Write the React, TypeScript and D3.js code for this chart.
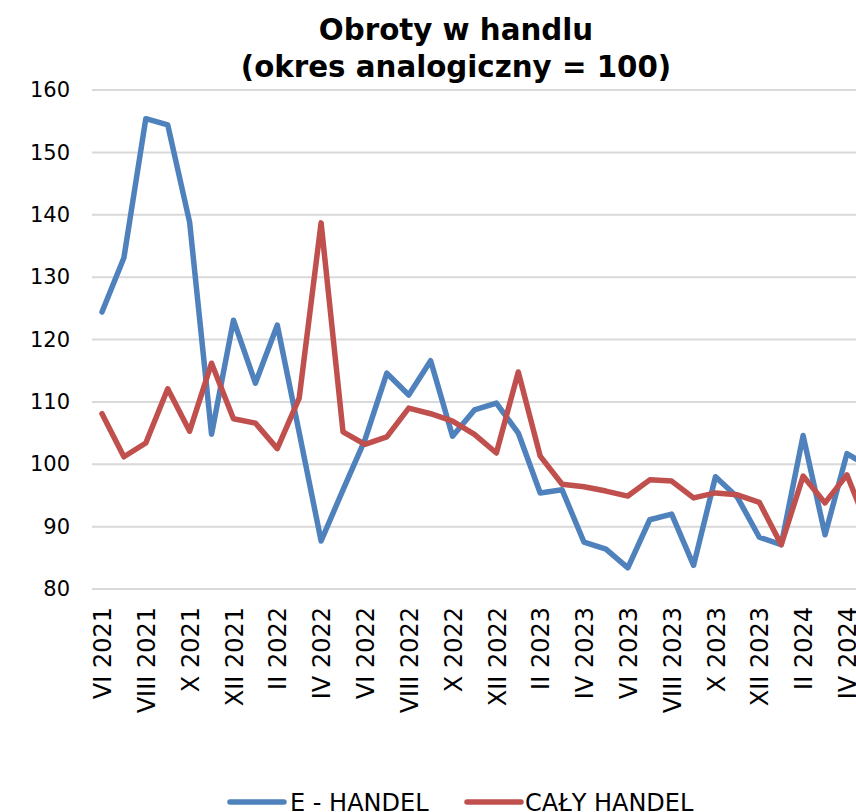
import React, { useEffect, useRef } from 'react'
import * as d3 from 'd3'

// months from VI 2021 to V 2024 (the last one sits past the right edge, as in the source)
const months = [
  'VI 2021', 'VII 2021', 'VIII 2021', 'IX 2021', 'X 2021', 'XI 2021', 'XII 2021',
  'I 2022', 'II 2022', 'III 2022', 'IV 2022', 'V 2022', 'VI 2022', 'VII 2022', 'VIII 2022',
  'IX 2022', 'X 2022', 'XI 2022', 'XII 2022',
  'I 2023', 'II 2023', 'III 2023', 'IV 2023', 'V 2023', 'VI 2023', 'VII 2023', 'VIII 2023',
  'IX 2023', 'X 2023', 'XI 2023', 'XII 2023',
  'I 2024', 'II 2024', 'III 2024', 'IV 2024', 'V 2024',
]

const eHandel = [
  124.4, 133.1, 155.4, 154.4, 138.8, 104.8, 123.1, 113.0, 122.3, 105.1, 87.7, 95.9,
  103.9, 114.6, 111.1, 116.6, 104.5, 108.7, 109.8, 105.0, 95.4, 95.9, 87.5, 86.4,
  83.4, 91.1, 92.0, 83.8, 98.0, 94.7, 88.3, 87.1, 104.6, 88.7, 101.7, 99.6,
]

const calyHandel = [
  108.1, 101.2, 103.4, 112.1, 105.3, 116.2, 107.3, 106.6, 102.5, 110.6, 138.7, 105.2,
  103.2, 104.4, 109.0, 108.1, 106.9, 104.8, 101.8, 114.8, 101.3, 96.8, 96.4, 95.7,
  94.9, 97.5, 97.3, 94.6, 95.4, 95.1, 93.9, 87.1, 98.1, 93.8, 98.3, 89.5,
]

// every other month gets a label
const tickLabels = months.filter((_, i) => i % 2 === 0)
const yTicks = [80, 90, 100, 110, 120, 130, 140, 150, 160]

const seriesList = [
  { id: 'e', label: 'E - HANDEL', color: '#4f81bd', values: eHandel },
  { id: 'caly', label: 'CAŁY HANDEL', color: '#c0504d', values: calyHandel },
]

export default function App() {
  const svgRef = useRef<SVGSVGElement>(null)

  useEffect(() => {
    if (!svgRef.current) return
    const svg = d3.select(svgRef.current)
    svg.selectAll('*').remove()

    const width = 856
    const height = 812
    const font = 'DejaVu Sans, Verdana, sans-serif'

    svg.attr('width', width).attr('height', height)

    const step = 21.91
    const x = d3.scalePoint<string>()
      .domain(months)
      .range([102, 102 + step * (months.length - 1)])

    const y = d3.scaleLinear()
      .domain([80, 160])
      .range([589, 90])

    // title
    const title = svg.append('text')
      .attr('text-anchor', 'middle')
      .style('font-family', font)
      .style('font-weight', 'bold')
      .style('font-size', '29.3px')
      .attr('fill', '#000')
    title.append('tspan').attr('x', 456).attr('y', 40).text('Obroty w handlu')
    title.append('tspan').attr('x', 456).attr('y', 77).text('(okres analogiczny = 100)')

    // grid
    svg.append('g')
      .selectAll('line')
      .data(yTicks)
      .enter().append('line')
      .attr('x1', 92)
      .attr('x2', 900)
      .attr('y1', d => y(d))
      .attr('y2', d => y(d))
      .attr('stroke', '#d9d9d9')
      .attr('stroke-width', 2)

    // y axis labels
    const yAxis = svg.append('g')
      .attr('transform', 'translate(70,0)')
      .call(d3.axisLeft(y).tickValues(yTicks).tickSize(0).tickPadding(0))
    yAxis.select('.domain').remove()
    yAxis.selectAll('text')
      .style('font-family', font)
      .style('font-size', '21px')
      .attr('fill', '#000')

    // x axis labels, rotated
    const xAxis = svg.append('g')
      .attr('transform', 'translate(0,607)')
      .call(d3.axisBottom(x).tickValues(tickLabels).tickSize(0).tickPadding(0))
    xAxis.select('.domain').remove()
    xAxis.selectAll('text')
      .style('font-family', font)
      .style('font-size', '24px')
      .attr('fill', '#000')
      .attr('transform', 'rotate(-90)')
      .attr('text-anchor', 'end')
      .attr('x', 0)
      .attr('y', 0)
      .attr('dy', '0.36em')

    const line = d3.line<number>()
      .x((_, i) => x(months[i]) || 0)
      .y(d => y(d))

    seriesList.forEach(s => {
      svg.append('path')
        .datum(s.values)
        .attr('fill', 'none')
        .attr('stroke', s.color)
        .attr('stroke-width', 5.5)
        .attr('stroke-linejoin', 'round')
        .attr('stroke-linecap', 'round')
        .attr('d', line)
    })

    // legend (bottom edge cuts the text, as in the source)
    const legendPos = [
      { lx: 230, tx: 290 },
      { lx: 467, tx: 525 },
    ]
    seriesList.forEach((s, i) => {
      const p = legendPos[i]
      svg.append('line')
        .attr('x1', p.lx)
        .attr('x2', p.lx + 54)
        .attr('y1', 802)
        .attr('y2', 802)
        .attr('stroke', s.color)
        .attr('stroke-width', 5.5)
        .attr('stroke-linecap', 'round')
      svg.append('text')
        .attr('x', p.tx)
        .attr('y', 811)
        .style('font-family', font)
        .style('font-size', '24px')
        .attr('fill', '#000')
        .text(s.label)
    })
  }, [])

  return (
    <svg
      ref={svgRef}
      style={{ position: 'absolute', left: 0, top: 0, overflow: 'hidden', background: '#fff' }}
    />
  )
}
